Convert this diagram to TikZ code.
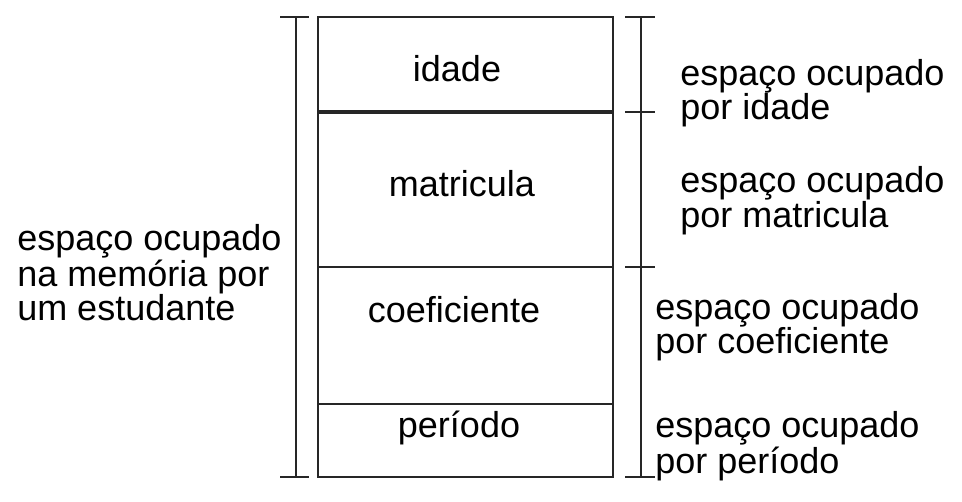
\documentclass[tikz,border=0pt]{standalone}
\usepackage{fontspec}
\setmainfont{Liberation Sans}
\begin{document}
\begin{tikzpicture}[x=0.75pt,y=-0.75pt,
  lbl/.style={font=\fontsize{27pt}{25.5pt}\selectfont,inner sep=0pt,align=left,anchor=base west},
  fld/.style={font=\fontsize{27pt}{25.5pt}\selectfont,inner sep=0pt,anchor=base},
  boxline/.style={line width=1.7pt,black!85},
  brk/.style={line width=1.3pt,black!85}]
\useasboundingbox (0,0) rectangle (962,502);
% box
\draw[boxline] (318,17) rectangle (613,477);
\draw[line width=2.4pt,black!85] (318,112) -- (613,112);
\draw[boxline] (318,267) -- (613,267);
\draw[boxline] (318,404) -- (613,404);
% fields
\node[fld] (idade) at (457,82) {idade};
\node[fld] (matr) at (462,197) {matricula};
\node[fld] (coef) at (454,322) {coeficiente};
\node[fld] (per) at (459,437) {período};
% left bracket
\coordinate (lt) at (296,17);
\coordinate (lb) at (296,477);
\draw[brk] (lt) -- (lb);
\draw[brk] ([xshift=-16*0.75pt]lt) -- ([xshift=13*0.75pt]lt);
\draw[brk] ([xshift=-16*0.75pt]lb) -- ([xshift=13*0.75pt]lb);
% right bracket
\coordinate (r1) at (641,17);
\coordinate (r2) at (641,112);
\coordinate (r3) at (641,267);
\coordinate (r4) at (641,477);
\draw[brk] (r1) -- (r4);
\foreach \c in {r1,r2,r3,r4}
  \draw[brk] ([xshift=-16*0.75pt]\c) -- ([xshift=14*0.75pt]\c);
% labels (anchored at the baseline of the last line)
\node[lbl] (ltxt) at (17,320) {espaço ocupado\\na memória por\\um estudante};
\node[lbl] (t1) at (680,120) {espaço ocupado\\por idade};
\node[lbl] (t2) at (680,227) {espaço ocupado\\por matricula};
\node[lbl] (t3) at (655,353) {espaço ocupado\\por coeficiente};
\node[lbl] (t4) at (655,473) {espaço ocupado\\por período};
\end{tikzpicture}
\end{document}
